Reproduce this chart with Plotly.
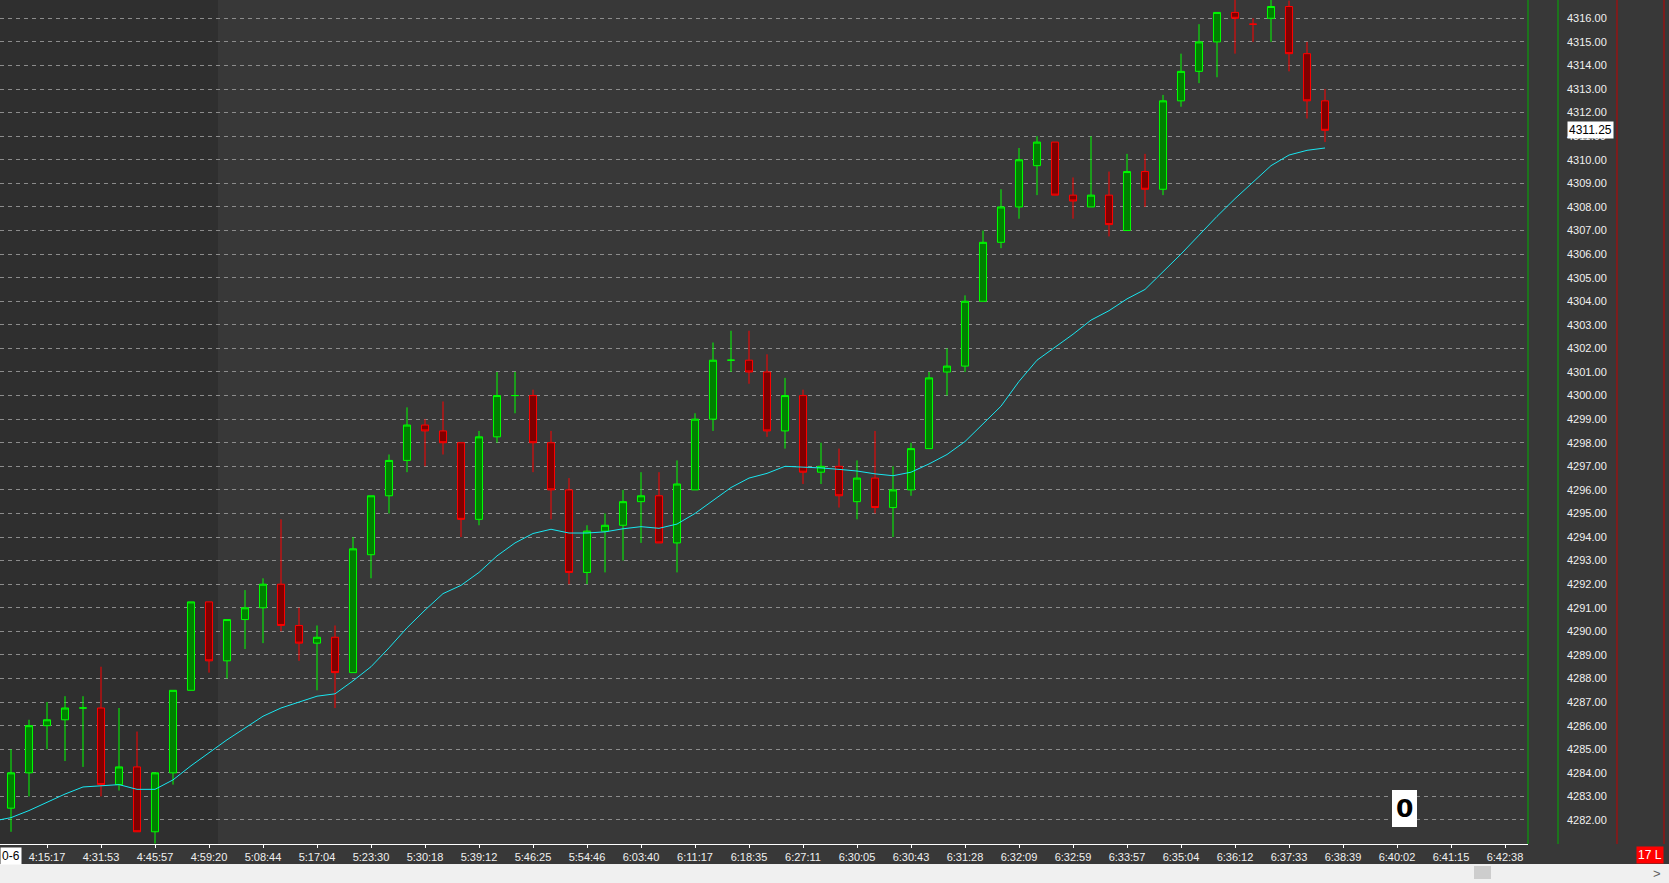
import plotly.graph_objects as go

# tick bars, index 0 is the bar cut off at the left edge
bar_index = list(range(75))

opens = [4281.75, 4282.5, 4284.0, 4286.0, 4286.25, 4286.75, 4286.75, 4283.5, 4284.25, 4281.5,
         4284.0, 4287.5, 4291.25, 4288.75, 4290.5, 4291.0, 4292.0, 4290.25, 4289.5, 4289.75,
         4288.25, 4293.25, 4295.75, 4297.25, 4298.75, 4298.5, 4298.0, 4294.75, 4298.25, 4300.0,
         4300.0, 4298.0, 4296.0, 4292.5, 4294.25, 4294.5, 4295.5, 4295.75, 4293.75, 4296.0,
         4299.0, 4301.5, 4301.5, 4301.0, 4298.5, 4300.0, 4296.75, 4297.0, 4295.5, 4296.5,
         4295.25, 4296.0, 4297.75, 4301.0, 4301.25, 4304.0, 4306.5, 4308.0, 4309.75, 4310.75,
         4308.5, 4308.0, 4308.5, 4307.0, 4309.5, 4308.75, 4312.5, 4313.75, 4315.0, 4316.25,
         4315.75, 4316.0, 4316.5, 4314.5, 4312.5]
highs = [4283.25, 4285.0, 4286.25, 4287.0, 4287.25, 4287.25, 4288.5, 4286.75, 4285.75, 4284.0,
         4287.5, 4291.25, 4291.25, 4290.5, 4291.75, 4292.25, 4294.75, 4291.0, 4290.25, 4290.25,
         4294.0, 4295.75, 4297.5, 4299.5, 4299.0, 4299.75, 4298.0, 4298.5, 4301.0, 4301.0,
         4300.25, 4298.5, 4296.5, 4294.5, 4295.0, 4296.0, 4296.75, 4296.75, 4297.25, 4299.25,
         4302.25, 4302.75, 4302.75, 4301.75, 4300.75, 4300.25, 4298.0, 4297.75, 4297.25, 4298.5,
         4297.0, 4298.0, 4301.0, 4302.0, 4304.25, 4307.0, 4308.75, 4310.5, 4311.0, 4310.75,
         4309.25, 4311.0, 4309.5, 4310.25, 4310.25, 4312.75, 4314.5, 4315.75, 4316.25, 4317.0,
         4316.0, 4317.0, 4316.75, 4315.0, 4313.0]
lows = [4281.25, 4281.5, 4283.0, 4285.0, 4284.5, 4284.25, 4283.0, 4283.25, 4281.5, 4281.0,
        4283.5, 4287.5, 4288.25, 4288.0, 4289.25, 4289.5, 4290.0, 4288.75, 4287.5, 4286.75,
        4288.25, 4292.25, 4295.0, 4296.75, 4297.0, 4297.5, 4294.0, 4294.5, 4298.0, 4299.25,
        4296.75, 4294.75, 4292.0, 4292.0, 4292.5, 4293.0, 4293.75, 4293.75, 4292.5, 4296.0,
        4298.5, 4301.0, 4300.5, 4298.25, 4297.75, 4296.25, 4296.25, 4295.25, 4294.75, 4295.0,
        4294.0, 4295.75, 4297.75, 4300.0, 4301.0, 4304.0, 4306.25, 4307.5, 4308.5, 4308.5,
        4307.5, 4308.0, 4306.75, 4307.0, 4308.0, 4308.5, 4312.25, 4313.25, 4313.5, 4314.5,
        4315.0, 4315.0, 4313.75, 4311.75, 4310.75]
closes = [4282.75, 4284.0, 4286.0, 4286.25, 4286.75, 4286.75, 4283.5, 4284.25, 4281.5, 4284.0,
          4287.5, 4291.25, 4288.75, 4290.5, 4291.0, 4292.0, 4290.25, 4289.5, 4289.75, 4288.25,
          4293.5, 4295.75, 4297.25, 4298.75, 4298.5, 4298.0, 4294.75, 4298.25, 4300.0, 4300.0,
          4298.0, 4296.0, 4292.5, 4294.25, 4294.5, 4295.5, 4295.75, 4293.75, 4296.25, 4299.0,
          4301.5, 4301.5, 4301.0, 4298.5, 4300.0, 4296.75, 4297.0, 4295.75, 4296.5, 4295.25,
          4296.0, 4297.75, 4300.75, 4301.25, 4304.0, 4306.5, 4308.0, 4310.0, 4310.75, 4308.5,
          4308.25, 4308.5, 4307.25, 4309.5, 4308.75, 4312.5, 4313.75, 4315.0, 4316.25, 4316.0,
          4315.75, 4316.5, 4314.5, 4312.5, 4311.25]

avg_line = [4281.95, 4282.1, 4282.4, 4282.75, 4283.1, 4283.4, 4283.45, 4283.5, 4283.3, 4283.3,
            4283.7, 4284.3, 4284.85, 4285.4, 4285.9, 4286.4, 4286.75, 4287.0, 4287.25, 4287.35,
            4287.9, 4288.5, 4289.3, 4290.15, 4290.9, 4291.6, 4291.95, 4292.5, 4293.2, 4293.75,
            4294.15, 4294.33, 4294.17, 4294.17, 4294.22, 4294.35, 4294.44, 4294.37, 4294.55, 4295.0,
            4295.55, 4296.1, 4296.5, 4296.7, 4297.0, 4296.97, 4296.93, 4296.87, 4296.8, 4296.68,
            4296.6, 4296.75, 4297.1, 4297.5, 4298.05, 4298.8, 4299.55, 4300.6, 4301.5, 4302.05,
            4302.6, 4303.2, 4303.6, 4304.1, 4304.5, 4305.25, 4306.0, 4306.8, 4307.6, 4308.35,
            4309.05, 4309.75, 4310.2, 4310.4, 4310.5]

x_tick_labels = ["4:15:17", "4:31:53", "4:45:57", "4:59:20", "5:08:44", "5:17:04", "5:23:30",
                 "5:30:18", "5:39:12", "5:46:25", "5:54:46", "6:03:40", "6:11:17", "6:18:35",
                 "6:27:11", "6:30:05", "6:30:43", "6:31:28", "6:32:09", "6:32:59", "6:33:57",
                 "6:35:04", "6:36:12", "6:37:33", "6:38:39", "6:40:02", "6:41:15", "6:42:38"]
x_tick_bars = [3 * (k + 1) for k in range(len(x_tick_labels))]
date_label = "0-6"
y_ticks = list(range(4282, 4317))
last_price = closes[-1]

W, H = 1669, 883
PW = 1528  # plot width in px
PH = 844   # plot height in px

fig = go.Figure()

fig.add_trace(go.Candlestick(
    x=bar_index, open=opens, high=highs, low=lows, close=closes,
    increasing=dict(line=dict(color="#00ff00", width=1), fillcolor="#008000"),
    decreasing=dict(line=dict(color="#ff0000", width=1), fillcolor="#800000"),
    whiskerwidth=0, showlegend=False, hoverinfo="skip"))

fig.add_trace(go.Scatter(
    x=bar_index, y=avg_line, mode="lines",
    line=dict(color="#19e6f0", width=1), showlegend=False, hoverinfo="skip"))

shapes = []
# darker session area on the left
shapes.append(dict(type="rect", xref="x", yref="paper", x0=-1, x1=12.5, y0=0, y1=1,
                   fillcolor="#2f2f2f", line_width=0, layer="below"))
# separators on the right side
for px, col in [(PW, "#00b000"), (1558, "#00b000"), (1617, "#c00000"), (1664, "#c00000")]:
    shapes.append(dict(type="line", xref="paper", yref="paper", x0=px / PW, x1=px / PW,
                       y0=0, y1=1, line=dict(color=col, width=1)))
# scrollbar at the bottom
shapes.append(dict(type="rect", xref="paper", yref="paper", x0=-0.01, x1=W / PW + 0.01,
                   y0=1 - 883 / PH, y1=1 - 864 / PH, fillcolor="#f0f0f0", line_width=0))
shapes.append(dict(type="rect", xref="paper", yref="paper", x0=1474 / PW, x1=1491 / PW,
                   y0=1 - 879 / PH, y1=1 - 866 / PH, fillcolor="#cdcdcd", line_width=0))
# white box for the counter
shapes.append(dict(type="rect", xref="paper", yref="paper", x0=1392 / PW, x1=1417 / PW,
                   y0=1 - 827 / PH, y1=1 - 790 / PH, fillcolor="white", line_width=0))

annotations = [
    dict(text=f"{last_price:.2f}", xref="paper", yref="y", x=1567 / PW, y=last_price,
         xanchor="left", yanchor="middle", showarrow=False, bgcolor="white",
         font=dict(color="black", size=12), borderpad=1),
    dict(text="<b>0</b>", xref="paper", yref="paper", x=1404.5 / PW, y=1 - 808.5 / PH,
         xanchor="center", yanchor="middle", showarrow=False,
         font=dict(color="black", size=25, family="DejaVu Sans")),
    dict(text=date_label, xref="paper", yref="paper", x=0, y=1 - 855.5 / PH,
         xanchor="left", yanchor="middle", showarrow=False, bgcolor="white",
         font=dict(color="black", size=12), borderpad=1),
    dict(text="17 L", xref="paper", yref="paper", x=1650 / PW, y=1 - 855 / PH,
         xanchor="center", yanchor="middle", showarrow=False, bgcolor="#ff0000",
         font=dict(color="white", size=12), borderpad=1),
    dict(text="&gt;", xref="paper", yref="paper", x=1657 / PW, y=1 - 873.5 / PH,
         xanchor="center", yanchor="middle", showarrow=False,
         font=dict(color="#606060", size=13)),
]

fig.update_layout(
    width=W, height=H,
    margin=dict(l=0, r=W - PW, t=0, b=H - PH),
    paper_bgcolor="#383838", plot_bgcolor="#383838",
    font=dict(family="Liberation Sans", size=11, color="#f0f0f0"),
    boxgap=0.44,
    shapes=shapes, annotations=annotations,
    xaxis=dict(range=[7 / 18, (PW + 7) / 18], tickvals=x_tick_bars, ticktext=x_tick_labels,
               showgrid=False, zeroline=False, showline=True, linecolor="white", linewidth=1,
               ticks="outside", ticklen=3, tickcolor="white",
               rangeslider=dict(visible=False), tickfont=dict(size=11, color="#f0f0f0")),
    yaxis=dict(range=[4316 - (PH - 18.3) / 23.579, 4316 + 18.3 / 23.579], side="right",
               tickvals=y_ticks, tickformat=".2f", showgrid=True, gridcolor="#8c8c8c",
               griddash="4px,4px", gridwidth=1, zeroline=False, ticks="",
               ticklabelstandoff=38, tickfont=dict(size=11, color="#f0f0f0")),
)

# the page has a default body margin; drop it so the figure fills the window
fig.write_html("out.html", config={"displayModeBar": False},
               post_script="document.body.style.margin='0';document.body.style.overflow='hidden';")
